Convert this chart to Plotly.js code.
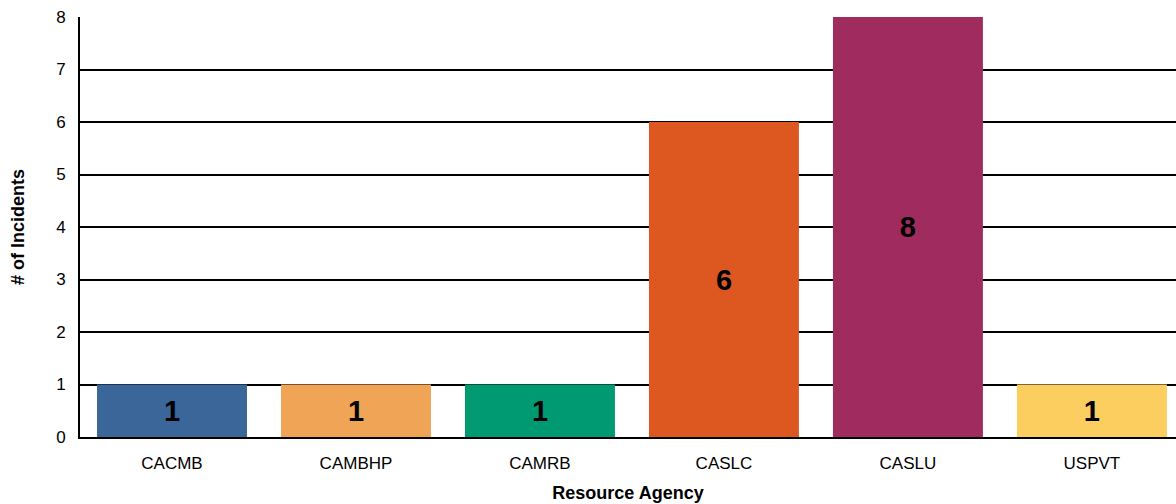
<!DOCTYPE html>
<html><head><meta charset="utf-8">
<script src="https://cdn.plot.ly/plotly-3.0.1.min.js"></script>
<style>html,body{margin:0;padding:0;overflow:hidden;background:#fff}</style>
</head><body>
<div id="chart" style="width:1176px;height:504px"></div>
<script>
const categories = ["CACMB", "CAMBHP", "CAMRB", "CASLC", "CASLU", "USPVT"];
const incidents = [1, 1, 1, 6, 8, 1];
const barColors = ["#3A6699", "#F0A456", "#009A72", "#DC5820", "#A02C5F", "#FCCD5F"];
const yTicks = [0, 1, 2, 3, 4, 5, 6, 7, 8];

const trace = {
  type: "bar",
  x: categories,
  y: incidents,
  marker: {color: barColors, line: {width: 0}},
  text: incidents.map(String),
  textposition: "inside",
  insidetextanchor: "middle",
  textangle: 0,
  textfont: {family: "Liberation Sans, Arial, sans-serif", size: 29, color: "#000", weight: "bold"},
  hoverinfo: "none"
};

const layout = {
  width: 1176, height: 504,
  margin: {l: 80, r: 0, t: 17, b: 67},
  paper_bgcolor: "#fff", plot_bgcolor: "#fff",
  bargap: 0.185,
  showlegend: false,
  font: {family: "Liberation Sans, Arial, sans-serif", size: 17, color: "#000"},
  xaxis: {
    range: [-0.5, 5.457],
    showline: true, linecolor: "#000", linewidth: 2,
    ticks: "", showgrid: false,
    tickfont: {size: 17},
    ticklabelstandoff: 10,
    title: {text: "<b>Resource Agency</b>", font: {size: 18}, standoff: 14}
  },
  yaxis: {
    range: [0, 8],
    tickvals: yTicks,
    showline: true, linecolor: "#000", linewidth: 2,
    showgrid: true, gridcolor: "#000", gridwidth: 2,
    zeroline: false, ticks: "",
    tickfont: {size: 17},
    ticklabelstandoff: 9,
    title: {text: "<b># of Incidents</b>", font: {size: 18}, standoff: 27}
  }
};

Plotly.newPlot("chart", [trace], layout, {displayModeBar: false, staticPlot: true});
</script>
</body></html>
